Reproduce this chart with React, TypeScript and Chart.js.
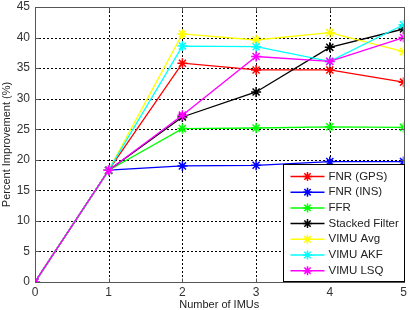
import React, { useEffect, useRef } from "react";
import { Chart, registerables } from "chart.js";

Chart.register(...registerables);

const imuCounts = [0, 1, 2, 3, 4, 5];
const seriesNames = ["FNR (GPS)", "FNR (INS)", "FFR", "Stacked Filter", "VIMU Avg", "VIMU AKF", "VIMU LSQ"];
const seriesColors = ["#ff0000", "#0000ff", "#00ff00", "#000000", "#ffff00", "#00ffff", "#ff00ff"];
const fnrGps = [0, 18.3, 35.8, 34.7, 34.7, 32.7];
const fnrIns = [0, 18.3, 19.0, 19.1, 19.7, 19.7];
const ffr = [0, 18.3, 25.1, 25.2, 25.4, 25.3];
const stacked = [0, 18.3, 27.0, 31.1, 38.4, 41.4];
const vimuAvg = [0, 18.3, 40.6, 39.6, 40.8, 37.7];
const vimuAkf = [0, 18.3, 38.6, 38.5, 36.1, 42.1];
const vimuLsq = [0, 18.3, 27.3, 36.9, 36.1, 40.0];
const yTicks = [0, 5, 10, 15, 20, 25, 30, 35, 40, 45];

const allSeries = [fnrGps, fnrIns, ffr, stacked, vimuAvg, vimuAkf, vimuLsq];

function drawStar(ctx: CanvasRenderingContext2D, x: number, y: number, r: number) {
  ctx.beginPath();
  for (let k = 0; k < 4; k++) {
    const a = (Math.PI / 4) * k;
    ctx.moveTo(x - r * Math.cos(a), y - r * Math.sin(a));
    ctx.lineTo(x + r * Math.cos(a), y + r * Math.sin(a));
  }
  ctx.stroke();
}

const gridPlugin = {
  id: "dashGrid",
  beforeDatasetsDraw(chart: any) {
    const { ctx, chartArea, scales } = chart;
    ctx.save();
    ctx.strokeStyle = "#000";
    ctx.lineWidth = 1;
    ctx.setLineDash([2, 2]);
    imuCounts.forEach((v) => {
      const x = Math.round(scales.x.getPixelForValue(v)) + 0.5;
      ctx.beginPath();
      ctx.moveTo(x, chartArea.top);
      ctx.lineTo(x, chartArea.bottom);
      ctx.stroke();
    });
    yTicks.forEach((v) => {
      const y = Math.round(scales.y.getPixelForValue(v)) + 0.5;
      ctx.beginPath();
      ctx.moveTo(chartArea.left, y);
      ctx.lineTo(chartArea.right, y);
      ctx.stroke();
    });
    ctx.restore();
  },
};

const framePlugin = {
  id: "frameLegend",
  afterDatasetsDraw(chart: any) {
    const { ctx, chartArea, scales } = chart;
    ctx.save();
    ctx.strokeStyle = "#555";
    ctx.lineWidth = 1;
    ctx.setLineDash([]);
    const L = Math.round(chartArea.left) + 0.5;
    const T = Math.round(chartArea.top) + 0.5;
    const R = Math.round(chartArea.right) + 0.5;
    const B = Math.round(chartArea.bottom) + 0.5;
    ctx.strokeRect(L, T, R - L, B - T);
    ctx.beginPath();
    imuCounts.forEach((v) => {
      const x = Math.round(scales.x.getPixelForValue(v)) + 0.5;
      ctx.moveTo(x, B); ctx.lineTo(x, B - 4);
      ctx.moveTo(x, T); ctx.lineTo(x, T + 4);
    });
    yTicks.forEach((v) => {
      const y = Math.round(scales.y.getPixelForValue(v)) + 0.5;
      ctx.moveTo(L, y); ctx.lineTo(L + 4, y);
      ctx.moveTo(R, y); ctx.lineTo(R - 4, y);
    });
    ctx.stroke();
    // legend
    const bw = 121, bh = 117;
    const bx = R - bw;
    const by = B - bh - 1;
    ctx.fillStyle = "#fff";
    ctx.fillRect(bx, by, bw, bh);
    ctx.strokeStyle = "#000";
    ctx.strokeRect(bx, by, bw, bh);
    ctx.font = "11.5px Arial, 'Liberation Sans', sans-serif";
    ctx.textBaseline = "middle";
    ctx.textAlign = "left";
    chart.data.datasets.forEach((ds: any, i: number) => {
      const cy = by + 12 + i * 15.7;
      ctx.strokeStyle = ds.borderColor;
      ctx.lineWidth = 1.5;
      ctx.beginPath();
      ctx.moveTo(bx + 7, cy);
      ctx.lineTo(bx + 41, cy);
      ctx.stroke();
      drawStar(ctx, bx + 24, cy, 4.5);
      ctx.fillStyle = "#222";
      ctx.fillText(ds.label, bx + 45, cy);
    });
    ctx.restore();
  },
};

export default function App() {
  const ref = useRef<HTMLCanvasElement>(null);
  useEffect(() => {
    document.body.style.margin = "0";
    const c = ref.current!;
    const font = { family: "Arial, 'Liberation Sans', sans-serif", size: 12 };
    const tfont = { family: "Arial, 'Liberation Sans', sans-serif", size: 11 };
    const chart = new Chart(c, {
      type: "line",
      data: {
        datasets: allSeries.map((s, i) => ({
          label: seriesNames[i],
          data: s.map((v, j) => ({ x: imuCounts[j], y: v })),
          borderColor: seriesColors[i],
          backgroundColor: seriesColors[i],
          borderWidth: 1.3,
          pointStyle: "star",
          pointRadius: 5,
          pointBorderWidth: 1.5,
          pointBorderColor: seriesColors[i],
          tension: 0,
          fill: false,
          order: 6 - i,
        })),
      },
      options: {
        responsive: false,
        animation: false,
        layout: { padding: { top: 7, right: 6, left: 0, bottom: 0 } },
        plugins: { legend: { display: false }, tooltip: { enabled: false } },
        scales: {
          x: {
            type: "linear",
            min: 0,
            max: 5,
            afterFit: (s: any) => { s.height = 28; s.paddingLeft = 0; s.paddingRight = 0; },
            afterBuildTicks: (s: any) => { s.ticks = imuCounts.map((v) => ({ value: v })); },
            ticks: { color: "#333", font, padding: 3, maxRotation: 0 },
            grid: { display: false, drawTicks: false, tickLength: 0 },
            border: { display: false },
            title: { display: true, text: "Number of IMUs", color: "#222", font: tfont, padding: { top: 0, bottom: -2 } },
          },
          y: {
            type: "linear",
            min: 0,
            max: 45,
            afterFit: (s: any) => { s.width = 35; s.paddingTop = 0; s.paddingBottom = 0; },
            afterBuildTicks: (s: any) => { s.ticks = yTicks.map((v) => ({ value: v })); },
            ticks: { color: "#333", font, padding: 5 },
            grid: { display: false, drawTicks: false, tickLength: 0 },
            border: { display: false },
            title: { display: true, text: "Percent Improvement (%)", color: "#222", font: tfont, padding: 0 },
          },
        },
      } as any,
      plugins: [gridPlugin, framePlugin],
    });
    return () => chart.destroy();
  }, []);
  return (
    <div style={{ width: 410, height: 310, background: "#fff" }}>
      <canvas ref={ref} width={410} height={310} />
    </div>
  );
}
